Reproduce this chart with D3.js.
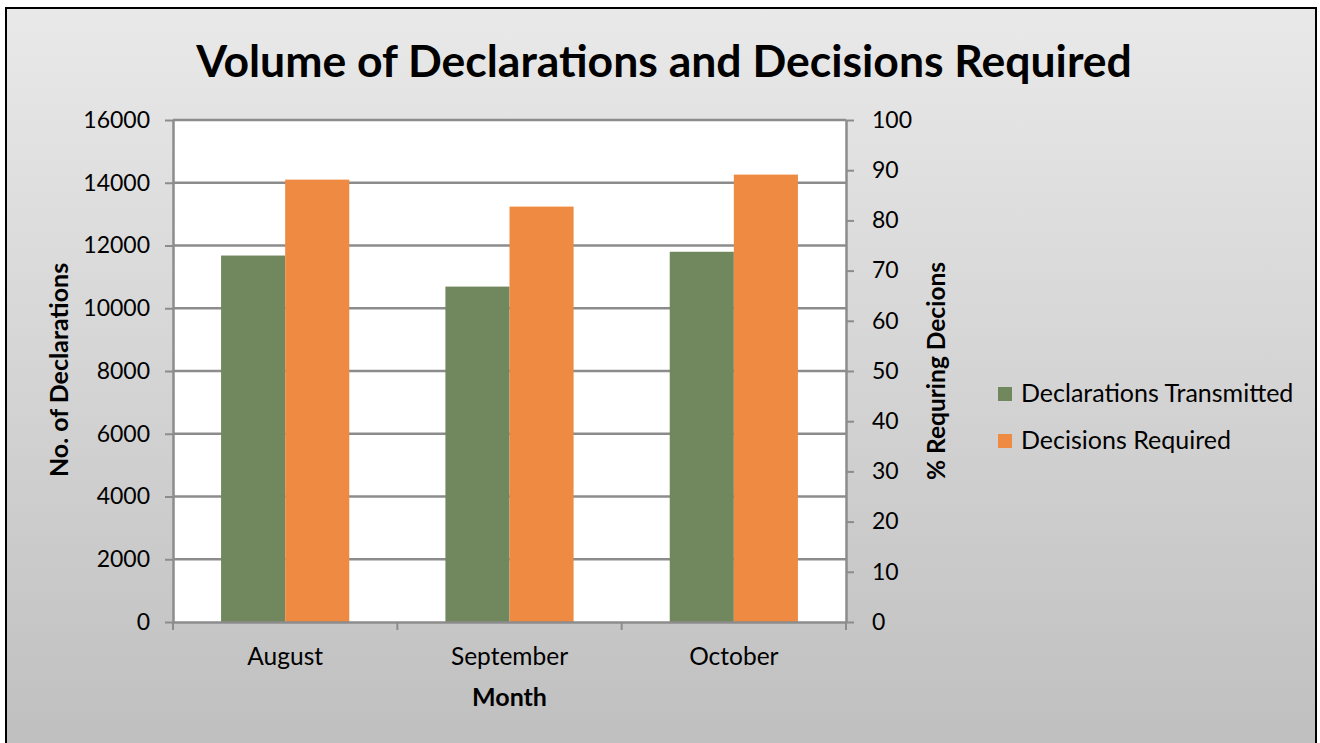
<!DOCTYPE html>
<html>
<head>
<meta charset="utf-8">
<script src="https://cdn.jsdelivr.net/npm/d3@7"></script>
<style>
  body { margin: 0; background: #fff; }
  svg text { font-family: Lato, "Open Sans", sans-serif; fill: #000; }
</style>
</head>
<body>
<div id="chart"></div>
<script>
var months = ["August", "September", "October"];
var seriesNames = ["Declarations Transmitted", "Decisions Required"];
var transmitted = [11680, 10690, 11800];
var required = [14100, 13240, 14260];
var leftTicks = [0, 2000, 4000, 6000, 8000, 10000, 12000, 14000, 16000];
var rightTicks = [0, 10, 20, 30, 40, 50, 60, 70, 80, 90, 100];
var colors = ["#71875d", "#ef8a43"];

var width = 1320, height = 743;
var margin = {top: 120, right: 474, bottom: 121, left: 173};
var chartWidth = width - margin.left - margin.right,
    chartHeight = height - margin.top - margin.bottom;

var svg = d3.select("#chart").append("svg")
    .attr("width", width)
    .attr("height", height);

var defs = svg.append("defs");
var grad = defs.append("linearGradient").attr("id", "bg")
    .attr("x1", 0).attr("y1", 0).attr("x2", 0).attr("y2", 1);
grad.append("stop").attr("offset", "0%").attr("stop-color", "#e9e9e9");
grad.append("stop").attr("offset", "100%").attr("stop-color", "#bfbfbf");

svg.append("rect")
    .attr("x", 6).attr("y", 8)
    .attr("width", 1310).attr("height", 745)
    .attr("fill", "url(#bg)")
    .attr("stroke", "#000").attr("stroke-width", 2);

svg.append("text")
    .attr("x", 664).attr("y", 77)
    .attr("text-anchor", "middle")
    .style("font-size", "44.5px").style("font-weight", "bold")
    .text("Volume of Declarations and Decisions Required");

var g = svg.append("g")
    .attr("transform", "translate(" + margin.left + "," + margin.top + ")");

g.append("rect")
    .attr("width", chartWidth).attr("height", chartHeight)
    .attr("fill", "#fff");

var x0 = d3.scaleBand().domain(months).range([0, chartWidth]);
var x1 = d3.scaleBand().domain(seriesNames)
    .range([0, x0.bandwidth()]).paddingOuter(0.75).paddingInner(0);
var y = d3.scaleLinear().domain([0, 16000]).range([chartHeight, 0]);
var y2 = d3.scaleLinear().domain([0, 100]).range([chartHeight, 0]);

// gridlines
g.selectAll(".grid")
    .data(leftTicks.slice(1))
  .enter().append("line")
    .attr("class", "grid")
    .attr("x1", 0).attr("x2", chartWidth)
    .attr("y1", function(d) { return y(d); })
    .attr("y2", function(d) { return y(d); })
    .attr("stroke", "#8c8c8c").attr("stroke-width", 2.5);

// bars
var rows = months.map(function(m, i) {
	return {month: m, values: [transmitted[i], required[i]]};
});

var groups = g.selectAll(".group")
    .data(rows)
  .enter().append("g")
    .attr("transform", function(d) { return "translate(" + x0(d.month) + ",0)"; });

groups.selectAll("rect")
    .data(function(d) { return d.values.map(function(v, j) { return {name: seriesNames[j], value: v, c: colors[j]}; }); })
  .enter().append("rect")
    .attr("x", function(d) { return x1(d.name); })
    .attr("width", x1.bandwidth())
    .attr("y", function(d) { return y(d.value); })
    .attr("height", function(d) { return chartHeight - y(d.value); })
    .attr("fill", function(d) { return d.c; });

// axes
function styleAxis(size) {
	return function(sel) {
		sel.select(".domain").attr("stroke", "#8c8c8c").attr("stroke-width", 2.5);
		sel.selectAll(".tick line").attr("stroke", "#8c8c8c").attr("stroke-width", 2);
		sel.selectAll(".tick text").style("font-size", size).style("font-family", "Lato, sans-serif");
	};
}

g.append("g")
    .call(d3.axisLeft(y).tickValues(leftTicks).tickSize(8).tickSizeOuter(0).tickPadding(15).tickFormat(d3.format("d")))
    .call(styleAxis("23px"));

g.append("g")
    .attr("transform", "translate(" + chartWidth + ",0)")
    .call(d3.axisRight(y2).tickValues(rightTicks).tickSize(8).tickSizeOuter(0).tickPadding(18).tickFormat(d3.format("d")))
    .call(styleAxis("23px"));

var xAxis = g.append("g")
    .attr("transform", "translate(0," + chartHeight + ")")
    .call(d3.axisBottom(x0).tickSize(0).tickPadding(26))
    .call(styleAxis("24.5px"));

xAxis.selectAll(".sep")
    .data([0, 1, 2, 3])
  .enter().append("line")
    .attr("x1", function(d) { return d * x0.step(); })
    .attr("x2", function(d) { return d * x0.step(); })
    .attr("y1", 0).attr("y2", 8)
    .attr("stroke", "#8c8c8c").attr("stroke-width", 2);

// axis titles
svg.append("text")
    .attr("transform", "translate(68,370) rotate(-90)")
    .attr("text-anchor", "middle")
    .style("font-size", "25px").style("font-weight", "bold")
    .text("No. of Declarations");

svg.append("text")
    .attr("transform", "translate(945,371) rotate(-90)")
    .attr("text-anchor", "middle")
    .style("font-size", "24.5px").style("font-weight", "bold")
    .text("% Requring Decions");

svg.append("text")
    .attr("x", margin.left + chartWidth / 2).attr("y", 706)
    .attr("text-anchor", "middle")
    .style("font-size", "25px").style("font-weight", "bold")
    .text("Month");

// legend
var legend = svg.append("g").attr("transform", "translate(998,387)");
var items = legend.selectAll(".item")
    .data(seriesNames)
  .enter().append("g")
    .attr("transform", function(d, i) { return "translate(0," + (i * 47) + ")"; });
items.append("rect")
    .attr("width", 14).attr("height", 14)
    .attr("fill", function(d, i) { return colors[i]; });
items.append("text")
    .attr("x", 23).attr("y", 15)
    .style("font-size", "25px")
    .text(function(d) { return d; });
</script>
</body>
</html>
